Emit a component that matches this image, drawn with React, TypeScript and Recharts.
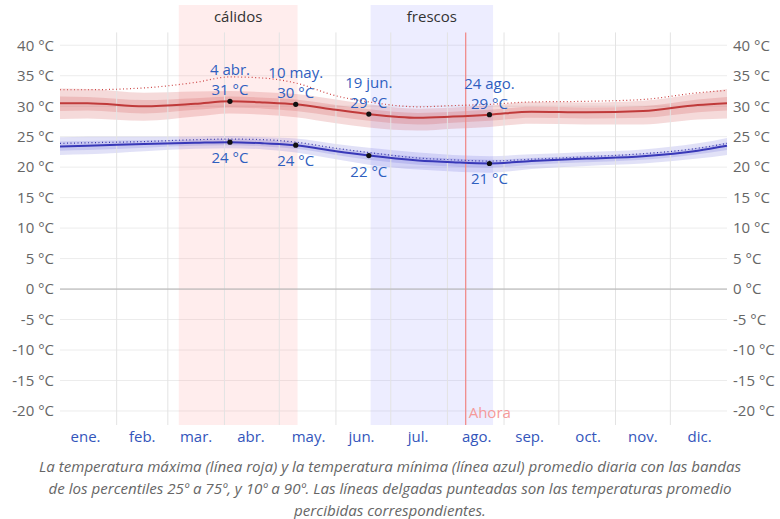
import React from 'react';
import {
    ComposedChart, Area, Line, Scatter, XAxis, YAxis, CartesianGrid,
    ReferenceArea, ReferenceLine,
} from 'recharts';

// day of year for each sample point
const days = [0, 15, 46, 74, 93, 112, 129, 151, 169, 196, 215, 235, 258, 288, 319, 349, 365];

const hiMean = [30.5, 30.5, 30.0, 30.4, 30.8, 30.6, 30.3, 29.4, 28.7, 28.1, 28.3, 28.6, 29.1, 29.0, 29.2, 30.2, 30.5];
const hiP90 = [32.9, 32.8, 32.2, 32.4, 32.5, 32.3, 32.0, 31.1, 30.3, 29.6, 29.8, 30.1, 30.7, 30.6, 30.9, 32.1, 32.8];
const hiP75 = [31.6, 31.5, 31.0, 31.3, 31.6, 31.4, 31.1, 30.2, 29.5, 28.9, 29.1, 29.4, 29.9, 29.8, 30.0, 31.1, 31.5];
const hiP25 = [29.2, 29.3, 28.8, 29.4, 29.8, 29.6, 29.2, 28.3, 27.6, 27.0, 27.3, 27.6, 28.1, 28.0, 28.1, 29.0, 29.3];
const hiP10 = [27.9, 28.0, 27.6, 28.3, 28.8, 28.6, 28.2, 27.2, 26.5, 26.0, 26.3, 26.6, 27.1, 27.0, 27.0, 27.8, 28.0];
const hiFeels = [32.7, 32.7, 33.0, 33.9, 34.8, 34.6, 33.8, 31.7, 30.7, 29.9, 30.1, 30.3, 30.7, 30.8, 31.1, 32.2, 32.6];

const loMean = [23.4, 23.5, 23.8, 24.0, 24.1, 23.9, 23.6, 22.6, 21.9, 21.1, 20.8, 20.6, 21.0, 21.4, 21.8, 22.7, 23.5];
const loP90 = [24.9, 25.0, 25.0, 25.0, 25.1, 24.9, 24.7, 23.8, 23.2, 22.4, 22.0, 21.8, 22.1, 22.5, 22.9, 23.9, 24.8];
const loP75 = [24.2, 24.3, 24.4, 24.5, 24.6, 24.4, 24.1, 23.1, 22.5, 21.7, 21.4, 21.2, 21.5, 21.9, 22.3, 23.2, 24.1];
const loP25 = [22.7, 22.8, 23.2, 23.5, 23.6, 23.4, 23.0, 22.0, 21.2, 20.4, 20.1, 19.9, 20.4, 20.8, 21.2, 22.1, 22.8];
const loP10 = [22.0, 22.1, 22.6, 23.0, 23.1, 22.9, 22.4, 21.3, 20.4, 19.6, 19.3, 19.1, 19.7, 20.2, 20.6, 21.4, 22.0];
const loFeels = [23.9, 24.0, 24.2, 24.5, 24.6, 24.5, 24.1, 23.1, 22.4, 21.5, 21.2, 21.0, 21.3, 21.7, 22.2, 23.1, 23.9];

// annotated days
const markDays = [93, 129, 169, 235];
const markDates = ['4 abr.', '10 may.', '19 jun.', '24 ago.'];
const markHi = [30.8, 30.3, 28.7, 28.6];
const markHiText = ['31 °C', '30 °C', '29 °C', '29 °C'];
const markLo = [24.1, 23.6, 21.9, 20.6];
const markLoText = ['24 °C', '24 °C', '22 °C', '21 °C'];

const monthTicks = [14, 45, 74.5, 104.5, 136, 165, 196, 228, 257, 289, 319, 350];
const monthLabels = ['ene.', 'feb.', 'mar.', 'abr.', 'may.', 'jun.', 'jul.', 'ago.', 'sep.', 'oct.', 'nov.', 'dic.'];
const monthStarts = [31, 59, 90, 120, 151, 181, 212, 243, 273, 304, 334];
const yTicks = [-20, -15, -10, -5, 0, 5, 10, 15, 20, 25, 30, 35, 40];

const warmFrom = 65, warmTo = 130;
const coolFrom = 170, coolTo = 237;
const today = 222;

const FONT = '"Open Sans", "Noto Sans", sans-serif';
const Y_MIN = -22.3;
const Y_MAX = 46.6;
const GRID_TOP = 42.1;

const data = days.map((d, i) => ({
    day: d,
    hi: hiMean[i],
    hiFeels: hiFeels[i],
    hiOuter: [hiP10[i], hiP90[i]],
    hiInner: [hiP25[i], hiP75[i]],
    lo: loMean[i],
    loFeels: loFeels[i],
    loOuter: [loP10[i], loP90[i]],
    loInner: [loP25[i], loP75[i]],
}));

const hiMarks = markDays.map((d, i) => ({ day: d, v: markHi[i], date: markDates[i], text: markHiText[i] }));
const loMarks = markDays.map((d, i) => ({ day: d, v: markLo[i], text: markLoText[i] }));

const HiMark = (props: any) => {
    const { cx, cy, payload } = props;
    return (
        <g>
            <circle cx={cx} cy={cy} r={2.6} fill="#111" />
            <text x={cx} y={cy - 32} textAnchor="middle" dominantBaseline="central" fill="#2f5fbf" fontSize={15} fontFamily={FONT}>{payload.date}</text>
            <text x={cx} y={cy - 12} textAnchor="middle" dominantBaseline="central" fill="#2f5fbf" fontSize={15} fontFamily={FONT}>{payload.text}</text>
        </g>
    );
};

const LoMark = (props: any) => {
    const { cx, cy, payload } = props;
    return (
        <g>
            <circle cx={cx} cy={cy} r={2.6} fill="#111" />
            <text x={cx} y={cy + 15} textAnchor="middle" dominantBaseline="central" fill="#2f5fbf" fontSize={15} fontFamily={FONT}>{payload.text}</text>
        </g>
    );
};

const NowLabel = (props: any) => {
    const { viewBox } = props;
    if (!viewBox) return null;
    return (
        <text x={viewBox.x + 3} y={viewBox.y + viewBox.height - 13} dominantBaseline="central" fill="#f59a9a" fontSize={15} fontFamily={FONT}>Ahora</text>
    );
};

const tempFmt = (v: number) => `${v} °C`;

export default function App() {
    return (
        <div style={{ position: 'absolute', left: 0, top: 0, width: 780, height: 519, background: '#fff', fontFamily: FONT }}>
            <ComposedChart width={780} height={455} data={data} margin={{ top: 5, right: 0, bottom: 0, left: 0 }}>
                <CartesianGrid yAxisId="l" vertical={false} stroke="#ececec" horizontalValues={yTicks} />
                <ReferenceArea yAxisId="l" x1={warmFrom} x2={warmTo} fill="#ff8c8c" fillOpacity={0.16} stroke="none"
                    label={{ value: 'cálidos', position: 'insideTop', offset: 6, fill: '#333', fontSize: 15, fontFamily: FONT }} />
                <ReferenceArea yAxisId="l" x1={coolFrom} x2={coolTo} fill="#8c8cff" fillOpacity={0.16} stroke="none"
                    label={{ value: 'frescos', position: 'insideTop', offset: 6, fill: '#333', fontSize: 15, fontFamily: FONT }} />
                {monthStarts.map((m) => (
                    <ReferenceLine yAxisId="l" key={m} segment={[{ x: m, y: Y_MIN }, { x: m, y: GRID_TOP }]} stroke="#e3e3e3" />
                ))}
                <ReferenceLine yAxisId="l" y={0} stroke="#b0b0b0" />
                <XAxis dataKey="day" type="number" domain={[0, 365]} ticks={monthTicks}
                    tickFormatter={(v: number) => monthLabels[monthTicks.indexOf(v)]}
                    axisLine={false} tickLine={false} height={30} tickMargin={0}
                    tick={{ fill: '#3355bb', fontSize: 15, fontFamily: FONT }} interval={0} />
                <YAxis yAxisId="l" orientation="left" width={60} domain={[Y_MIN, Y_MAX]} ticks={yTicks}
                    tickFormatter={tempFmt} axisLine={false} tickLine={false} tickMargin={0} interval={0}
                    allowDataOverflow tick={{ fill: '#666', fontSize: 15, fontFamily: FONT }} />
                <YAxis yAxisId="r" orientation="right" width={53} domain={[Y_MIN, Y_MAX]} ticks={yTicks}
                    tickFormatter={tempFmt} axisLine={false} tickLine={false} tickMargin={0} interval={0}
                    allowDataOverflow tick={{ fill: '#666', fontSize: 15, fontFamily: FONT }} />
                <ReferenceLine yAxisId="l" segment={[{ x: today, y: Y_MIN }, { x: today, y: GRID_TOP }]}
                    stroke="#f08c8c" strokeWidth={1.3} label={<NowLabel />} />

                <Area yAxisId="l" type="monotone" dataKey="hiOuter" stroke="none" fill="#cc4444" fillOpacity={0.2} isAnimationActive={false} />
                <Area yAxisId="l" type="monotone" dataKey="hiInner" stroke="none" fill="#cc4444" fillOpacity={0.2} isAnimationActive={false} />
                <Area yAxisId="l" type="monotone" dataKey="loOuter" stroke="none" fill="#4444cc" fillOpacity={0.16} isAnimationActive={false} />
                <Area yAxisId="l" type="monotone" dataKey="loInner" stroke="none" fill="#4444cc" fillOpacity={0.16} isAnimationActive={false} />

                <Line yAxisId="l" type="monotone" dataKey="hiFeels" stroke="#cc4444" strokeWidth={1.2} strokeDasharray="1 2.5" dot={false} isAnimationActive={false} />
                <Line yAxisId="l" type="monotone" dataKey="loFeels" stroke="#3a3aaa" strokeWidth={1.2} strokeDasharray="1 2.5" dot={false} isAnimationActive={false} />
                <Line yAxisId="l" type="monotone" dataKey="hi" stroke="#c03a3a" strokeWidth={2} dot={false} isAnimationActive={false} />
                <Line yAxisId="l" type="monotone" dataKey="lo" stroke="#3838b8" strokeWidth={2} dot={false} isAnimationActive={false} />

                <Scatter yAxisId="l" data={hiMarks} dataKey="v" shape={<HiMark />} isAnimationActive={false} />
                <Scatter yAxisId="l" data={loMarks} dataKey="v" shape={<LoMark />} isAnimationActive={false} />
            </ComposedChart>
            <div style={{ position: 'absolute', left: 0, top: 455, width: 780, textAlign: 'center', fontStyle: 'italic', fontSize: 15.1, lineHeight: '22px', color: '#666' }}>
                La temperatura máxima (línea roja) y la temperatura mínima (línea azul) promedio diaria con las bandas<br />
                de los percentiles 25º a 75º, y 10º a 90º. Las líneas delgadas punteadas son las temperaturas promedio<br />
                percibidas correspondientes.
            </div>
        </div>
    );
}
